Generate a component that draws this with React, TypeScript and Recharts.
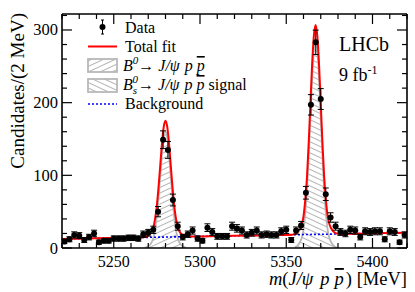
import React from 'react';
import { ComposedChart, XAxis, YAxis, Area, Line, Scatter, ErrorBar } from 'recharts';

const FONT = '"Liberation Serif", "Times New Roman", serif';

// Data histogram (bin centres in MeV, candidates per bin)
const binCenters = [
  5221.4, 5224.3, 5227.1, 5230.0, 5232.9, 5235.7, 5238.6, 5241.4, 5244.3, 5247.1,
  5250.0, 5252.9, 5255.7, 5258.6, 5261.4, 5264.3, 5267.1, 5270.0, 5272.9, 5275.7,
  5278.6, 5281.4, 5284.3, 5287.1, 5290.0, 5292.9, 5295.7, 5298.6, 5301.4, 5304.3,
  5307.1, 5310.0, 5312.9, 5315.7, 5318.6, 5321.4, 5324.3, 5327.1, 5330.0, 5332.9,
  5335.7, 5338.6, 5341.4, 5344.3, 5347.1, 5350.0, 5352.9, 5355.7, 5358.6, 5361.4,
  5364.3, 5367.1, 5370.0, 5372.9, 5375.7, 5378.6, 5381.4, 5384.3, 5387.1, 5390.0,
  5392.9, 5395.7, 5398.6, 5401.4, 5404.3, 5407.1, 5410.0, 5412.9, 5415.7, 5418.6,
];
const counts = [
  9, 12, 18, 17, 11, 15, 20, 8, 10, 10,
  13, 13, 13, 14, 14, 13, 19, 21, 25, 50,
  149, 135, 66, 30, 15, 19, 24, 13, 10, 28,
  22, 16, 16, 16, 30, 27, 24, 18, 21, 24,
  18, 19, 18, 18, 23, 25, 11, 24, 31, 76,
  197, 283, 205, 74, 42, 30, 22, 20, 25, 24,
  15, 23, 22, 23, 23, 12, 23, 22, 8, 18,
];

// Fit components sampled on a mass grid
const fitX = [
  5220, 5240, 5260, 5266, 5268, 5270, 5271, 5272, 5273, 5274, 5275, 5276, 5277, 5278, 5279,
  5280, 5281, 5282, 5283, 5284, 5285, 5286, 5287, 5288, 5289, 5290, 5292, 5294, 5300, 5320,
  5340, 5350, 5353, 5355, 5356, 5357, 5358, 5359, 5360, 5361, 5362, 5363, 5364, 5365, 5366,
  5367, 5368, 5369, 5370, 5371, 5372, 5373, 5374, 5375, 5376, 5377, 5378, 5380, 5382, 5390,
  5400, 5420,
];
const bkgFit = [
  12.5, 13.4, 14.2, 14.5, 14.5, 14.6, 14.7, 14.7, 14.8, 14.8, 14.8, 14.9, 14.9, 15.0, 15.0,
  15.1, 15.1, 15.1, 15.2, 15.2, 15.3, 15.3, 15.4, 15.4, 15.4, 15.5, 15.6, 15.7, 15.9, 16.8,
  17.6, 18.0, 18.2, 18.2, 18.3, 18.3, 18.4, 18.4, 18.5, 18.5, 18.5, 18.6, 18.6, 18.7, 18.7,
  18.8, 18.8, 18.8, 18.9, 18.9, 19.0, 19.0, 19.0, 19.1, 19.1, 19.2, 19.2, 19.3, 19.4, 19.7,
  20.2, 21.0,
];
const b0Fit = [
  null, null, null, null, 0.5, 2.5, 4.5, 8, 14, 26, 44, 70, 100, 130, 152,
  160, 152, 130, 100, 70, 44, 26, 14, 8, 4.5, 2.5, 0.5, null, null, null,
  null, null, null, null, null, null, null, null, null, null, null, null, null, null, null,
  null, null, null, null, null, null, null, null, null, null, null, null, null, null, null,
  null, null,
];
const bsFit = [
  null, null, null, null, null, null, null, null, null, null, null, null, null, null, null,
  null, null, null, null, null, null, null, null, null, null, null, null, null, null, null,
  null, null, null, 1, 2.2, 4.5, 8, 14, 25, 47, 78, 125, 180, 234, 273,
  288, 273, 234, 180, 125, 78, 47, 25, 14, 8, 4.5, 2.2, 0.4, null, null,
  null, null,
];

const xTicks = [5220, 5230, 5240, 5250, 5260, 5270, 5280, 5290, 5300, 5310, 5320, 5330, 5340, 5350, 5360, 5370, 5380, 5390, 5400, 5410, 5420];
const xMajor = [5250, 5300, 5350, 5400];
const yTicks = [0, 20, 40, 60, 80, 100, 120, 140, 160, 180, 200, 220, 240, 260, 280, 300, 320];
const yMajor = [0, 100, 200, 300];

const axisStyle = { stroke: '#000', strokeWidth: 1.6 };

const BottomTick = (p: any) => {
  const v = p.payload.value;
  const major = xMajor.includes(v);
  return (
    <g>
      <line x1={p.x} x2={p.x} y1={p.y} y2={p.y - (major ? 10 : 5)} stroke="#000" strokeWidth={1.2} />
      {major && (
        <text x={p.x} y={p.y + 19} textAnchor="middle" fontSize={16} fontFamily={FONT} fill="#000">{v}</text>
      )}
    </g>
  );
};
const TopTick = (p: any) => {
  const major = xMajor.includes(p.payload.value);
  return <line x1={p.x} x2={p.x} y1={p.y} y2={p.y + (major ? 10 : 5)} stroke="#000" strokeWidth={1.2} />;
};
const LeftTick = (p: any) => {
  const v = p.payload.value;
  const major = yMajor.includes(v);
  return (
    <g>
      <line x1={p.x} x2={p.x + (major ? 10 : 5)} y1={p.y} y2={p.y} stroke="#000" strokeWidth={1.2} />
      {major && (
        <text x={p.x - 4} y={p.y + 5.5} textAnchor="end" fontSize={16.5} fontFamily={FONT} fill="#000">{v}</text>
      )}
    </g>
  );
};
const RightTick = (p: any) => {
  const major = yMajor.includes(p.payload.value);
  return <line x1={p.x} x2={p.x - (major ? 10 : 5)} y1={p.y} y2={p.y} stroke="#000" strokeWidth={1.2} />;
};

const Dot = (p: any) => <circle cx={p.cx} cy={p.cy} r={3} fill="#000" />;

export default function App() {
  const dataPoints = binCenters.map((x, i) => ({ x, y: counts[i], err: Math.sqrt(counts[i]) }));
  const fitData = fitX.map((x, i) => ({
    x,
    bkg: bkgFit[i],
    b0: b0Fit[i],
    bs: bsFit[i],
    total: bkgFit[i] + (b0Fit[i] ?? 0) + (bsFit[i] ?? 0),
  }));
  const legendX = 125;
  return (
    <div style={{ position: 'absolute', left: 0, top: 0 }}>
      <ComposedChart width={415} height={292} data={fitData} margin={{ top: 0, right: 0, bottom: 0, left: 0 }}>
        <defs>
          <pattern id="hatchB0" patternUnits="userSpaceOnUse" width="8" height="5" patternTransform="rotate(-25)">
            <line x1="0" y1="2.5" x2="8" y2="2.5" stroke="#b4b4b4" strokeWidth="1" />
          </pattern>
          <pattern id="hatchBs" patternUnits="userSpaceOnUse" width="8" height="5" patternTransform="rotate(25)">
            <line x1="0" y1="2.5" x2="8" y2="2.5" stroke="#b4b4b4" strokeWidth="1" />
          </pattern>
        </defs>
        <XAxis
          type="number" dataKey="x" domain={[5220, 5420]} allowDataOverflow ticks={xTicks} interval={0}
          height={44} tickSize={0} tickMargin={0} tickLine={false} axisLine={axisStyle}
          tick={(p: any) => <BottomTick {...p} />}
        />
        <XAxis
          xAxisId="top" orientation="top" type="number" dataKey="x" domain={[5220, 5420]} allowDataOverflow
          ticks={xTicks} interval={0} height={14} tickSize={0} tickMargin={0} tickLine={false} axisLine={axisStyle}
          tick={(p: any) => <TopTick {...p} />}
        />
        <YAxis
          type="number" domain={[0, 322]} allowDataOverflow ticks={yTicks} interval={0} width={62}
          tickSize={0} tickMargin={0} tickLine={false} axisLine={axisStyle}
          tick={(p: any) => <LeftTick {...p} />}
        />
        <YAxis
          yAxisId="right" orientation="right" type="number" domain={[0, 322]} allowDataOverflow ticks={yTicks}
          interval={0} width={8} tickSize={0} tickMargin={0} tickLine={false} axisLine={axisStyle}
          tick={(p: any) => <RightTick {...p} />}
        />
        <Area dataKey="b0" type="monotone" stroke="#b8b8b8" strokeWidth={1.8} fill="url(#hatchB0)" fillOpacity={1} isAnimationActive={false} dot={false} activeDot={false} />
        <Area dataKey="bs" type="monotone" stroke="#b8b8b8" strokeWidth={1.8} fill="url(#hatchBs)" fillOpacity={1} isAnimationActive={false} dot={false} activeDot={false} />
        <Line dataKey="bkg" type="linear" stroke="#0000ff" strokeWidth={1.6} strokeDasharray="2 2" dot={false} activeDot={false} isAnimationActive={false} />
        <Line dataKey="total" type="monotone" stroke="#ff0000" strokeWidth={2} dot={false} activeDot={false} isAnimationActive={false} />
        <Scatter data={dataPoints} dataKey="y" shape={Dot} isAnimationActive={false}>
          <ErrorBar dataKey="err" direction="y" width={3} stroke="#000" strokeWidth={1} />
        </Scatter>

        {/* axis titles */}
        <text transform="rotate(-90)" x={-13} y={24} textAnchor="end" fontSize={19} fontFamily={FONT} fill="#000">
          Candidates/(2 MeV)
        </text>
        <text x={407} y={285} textAnchor="end" fontSize={18.5} fontFamily={FONT} fill="#000">
          <tspan fontStyle="italic">m</tspan>
          <tspan>(</tspan>
          <tspan fontStyle="italic">J/ψ</tspan>
          <tspan fontStyle="italic" dx={7}>p</tspan>
          <tspan fontStyle="italic" dx={5} style={{ textDecoration: 'overline' }}>p</tspan>
          <tspan dx={2}>) [MeV]</tspan>
        </text>

        {/* LHCb label */}
        <text x={339} y={51} fontSize={20} fontFamily={FONT} fill="#000">LHCb</text>
        <text x={339} y={81} fontSize={18} fontFamily={FONT} fill="#000">
          9 fb<tspan dy={-7} fontSize={12}>-1</tspan>
        </text>

        {/* legend */}
        <g>
          <line x1={102.5} x2={102.5} y1={20} y2={34} stroke="#000" strokeWidth={1} />
          <line x1={101} x2={104} y1={20} y2={20} stroke="#000" strokeWidth={1} />
          <line x1={101} x2={104} y1={34} y2={34} stroke="#000" strokeWidth={1} />
          <circle cx={102.5} cy={27} r={3} fill="#000" />
          <text x={legendX} y={33} fontSize={16} fontFamily={FONT} fill="#000">Data</text>

          <line x1={88} x2={117} y1={46.5} y2={46.5} stroke="#ff0000" strokeWidth={2} />
          <text x={legendX} y={52} fontSize={16} fontFamily={FONT} fill="#000">Total fit</text>

          <rect x={88} y={59} width={29} height={13} fill="url(#hatchB0)" stroke="#b8b8b8" strokeWidth={1.8} />
          <text x={legendX - 2} y={71} fontSize={16} fontFamily={FONT} fill="#000">
            <tspan fontStyle="italic">B</tspan>
            <tspan dy={-7} fontSize={11} fontStyle="italic">0</tspan>
            <tspan dy={7}>→ </tspan>
            <tspan fontStyle="italic">J/ψ</tspan>
            <tspan fontStyle="italic" dx={5}>p</tspan>
            <tspan fontStyle="italic" dx={4} style={{ textDecoration: 'overline' }}>p</tspan>
          </text>

          <rect x={88} y={79} width={29} height={13} fill="url(#hatchBs)" stroke="#b8b8b8" strokeWidth={1.8} />
          <text x={legendX - 2} y={90} fontSize={16} fontFamily={FONT} fill="#000">
            <tspan fontStyle="italic">B</tspan>
            <tspan dy={4} fontSize={11} fontStyle="italic">s</tspan>
            <tspan dx={-4.5} dy={-11} fontSize={11} fontStyle="italic">0</tspan>
            <tspan dy={7}>→ </tspan>
            <tspan fontStyle="italic">J/ψ</tspan>
            <tspan fontStyle="italic" dx={5}>p</tspan>
            <tspan fontStyle="italic" dx={4} style={{ textDecoration: 'overline' }}>p</tspan>
            <tspan> signal</tspan>
          </text>

          <line x1={88} x2={117} y1={104} y2={104} stroke="#0000ff" strokeWidth={1.6} strokeDasharray="2 2" />
          <text x={legendX} y={109} fontSize={16} fontFamily={FONT} fill="#000">Background</text>
        </g>
      </ComposedChart>
    </div>
  );
}
